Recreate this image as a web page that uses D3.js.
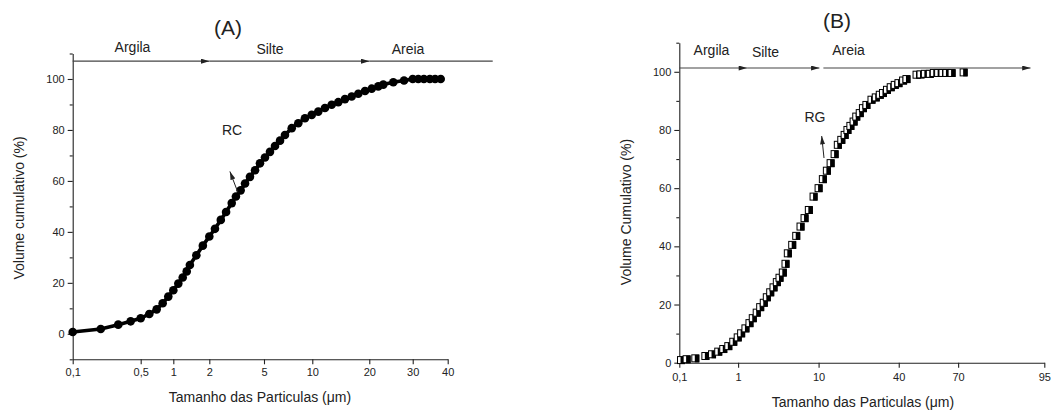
<!DOCTYPE html>
<html>
<head>
<meta charset="utf-8">
<script src="https://cdn.jsdelivr.net/npm/d3@7"></script>
<style>
body { margin: 0; background: #fff; }
text { font-family: "Liberation Sans", Arial, sans-serif; fill: #222; }
.axis path, .axis line { stroke: #222; stroke-width: 1.1px; }
.axis text { font-size: 11px; font-family: "Liberation Sans", Arial, sans-serif; fill: #222; }
</style>
</head>
<body>
<div id="chart"></div>
<script>
// ---- data: panel (A) RC, filled circles ----
var sizeA = [0.10, 0.265, 0.368, 0.441, 0.50, 0.632, 0.745, 0.837, 0.923, 1.0, 1.139, 1.261, 1.372, 1.46, 1.64, 1.82, 2.0, 2.31, 2.63, 2.92, 3.23, 3.46, 3.72, 3.96, 4.23, 4.51, 4.78, 5.10, 5.62, 6.14, 6.66, 7.17, 7.87, 8.55, 9.24, 9.94, 11.05, 12.22, 13.40, 14.56, 15.73, 16.91, 18.07, 19.25, 20.55, 22.07, 23.23, 25.53, 28.0, 30.0, 31.6, 33.2, 34.9, 36.4, 38.0];
var volA = [0.7, 1.9, 3.6, 4.9, 6.1, 7.8, 9.6, 12.0, 14.6, 17.1, 19.7, 22.1, 24.5, 27.0, 30.8, 34.6, 38.2, 41.2, 44.7, 47.8, 51.3, 53.9, 56.3, 59.0, 61.6, 64.2, 66.9, 69.2, 71.4, 73.7, 75.8, 78.0, 80.7, 82.6, 84.6, 85.9, 87.2, 88.6, 89.9, 90.9, 92.1, 93.1, 94.2, 95.3, 96.2, 97.1, 97.8, 98.7, 99.4, 100, 100, 100, 100, 100, 100];

// ---- data: panel (B) RG, half filled squares ----
var sizeB = [0.126, 0.212, 0.345, 0.499, 0.601, 0.696, 0.773, 0.850, 0.926, 0.994,
  1.34, 1.82, 2.27, 2.64, 3.08, 3.47, 3.87, 4.21, 4.59, 4.96, 5.33, 5.63, 6.0, 6.30, 6.56, 7.05, 7.50, 7.98, 8.43, 8.91, 9.44, 10.0,
  11.6, 13.1, 14.5, 16.0, 17.2, 18.5, 19.75, 20.8, 21.9, 23.1, 24.1, 25.4, 26.6, 27.9, 29.8, 31.4, 32.9, 34.1, 35.6, 37.0, 38.5, 39.9,
  42.2, 43.9, 49.0, 51.0, 53.2, 55.7, 57.7, 59.9, 62.1, 64.1, 66.7, 71.6];
var volB = [0.9, 1.2, 1.5, 2.3, 2.9, 3.8, 4.7, 5.7, 7.2, 8.7,
  10.1, 11.8, 13.6, 15.3, 17.2, 19.1, 20.6, 22.5, 24.2, 25.9, 27.7, 29.2, 31.0, 34.0, 37.6, 40.5, 43.6, 46.8, 49.7, 52.5, 57.1, 60.0,
  63.1, 66.0, 68.6, 71.7, 74.9, 76.6, 78.3, 80.0, 81.4, 82.9, 84.6, 85.8, 87.5, 88.6, 90.4, 91.2, 92.1, 92.7, 93.8, 94.7, 95.5, 96.1,
  97.0, 97.5, 99.0, 99.1, 99.3, 99.3, 99.6, 99.6, 99.6, 99.6, 99.6, 99.8];

// axis ticks
var xTicksA = [0.1, 0.5, 1, 2, 5, 10, 20, 30, 40];
var xTicksB = [0.1, 1, 10, 40, 70, 95];
var yTicks = [0, 20, 40, 60, 80, 100];
var yMinorA = [-10, 10, 30, 50, 70, 90, 110];
var yMinorB = [10, 30, 50, 70, 90, 110];

// class bands (argila / silte / areia)
var bandNames = ["Argila", "Silte", "Areia"];
var limitsA = [2, 20];
var limitsB = [2, 10.3];

var width = 1051, height = 412;
var svg = d3.select("#chart").append("svg")
  .attr("width", width).attr("height", height);

var defs = svg.append("defs");
defs.append("marker").attr("id", "head")
  .attr("viewBox", "0 0 10 6").attr("refX", 10).attr("refY", 3)
  .attr("markerWidth", 9).attr("markerHeight", 5).attr("markerUnits", "userSpaceOnUse")
  .attr("orient", "auto")
  .append("path").attr("d", "M0,0 L10,3 L0,6 Z").attr("fill", "#222");

var fmt = function(d) { return String(d).replace(".", ","); };

// ---------------- panel A ----------------
var axA = {left: 72.7, right: 447.7, top: 53.5, bottom: 359.3};
// the original axis is not log, tick spacing as in the figure
var fracA = [0, 0.1813, 0.2683, 0.3643, 0.5101, 0.6389, 0.7909, 0.9067, 1];
var xA = d3.scaleLinear().domain(xTicksA)
  .range(fracA.map(function(f) { return axA.left + f * (axA.right - axA.left); }));
var yA = d3.scaleLinear().domain([-10, 110]).range([axA.bottom, axA.top]);

var gA = svg.append("g");
gA.append("g").attr("class", "axis")
  .attr("transform", "translate(0," + axA.bottom + ")")
  .call(d3.axisBottom(xA).tickValues(xTicksA).tickFormat(fmt).tickSize(5).tickSizeOuter(0).tickPadding(4));
gA.append("g").attr("class", "axis")
  .attr("transform", "translate(" + axA.left + ",0)")
  .call(d3.axisLeft(yA).tickValues(yTicks).tickSize(5).tickSizeOuter(0).tickPadding(3));
gA.append("g").attr("class", "axis")
  .attr("transform", "translate(" + axA.left + ",0)")
  .call(d3.axisLeft(yA).tickValues(yMinorA).tickSize(3).tickFormat("").tickSizeOuter(0))
  .select(".domain").remove();

var ptsA = sizeA.map(function(d, i) { return [xA(d), yA(volA[i])]; });
gA.append("path").attr("d", d3.line()(ptsA))
  .attr("fill", "none").attr("stroke", "#000").attr("stroke-width", 3.6);
gA.selectAll("circle.pt").data(ptsA).enter().append("circle")
  .attr("cx", function(d) { return d[0]; }).attr("cy", function(d) { return d[1]; })
  .attr("r", 4.3).attr("fill", "#000");

// band line with arrows
var bandYA = yA(107);
var edgesA = [xA(0.1), xA(limitsA[0]), xA(limitsA[1]), axA.right + 45];
for (var i = 0; i < 3; i++) {
  var seg = gA.append("line")
    .attr("x1", edgesA[i]).attr("x2", edgesA[i + 1])
    .attr("y1", bandYA).attr("y2", bandYA)
    .attr("stroke", "#444").attr("stroke-width", 1.2);
  if (i < 2) seg.attr("marker-end", "url(#head)");
}
var labelXA = [132.5, 270, 408];
bandNames.forEach(function(n, i) {
  gA.append("text").attr("x", labelXA[i]).attr("y", i == 0 ? 51.5 : 54)
    .attr("text-anchor", "middle").style("font-size", "14px").text(n);
});

gA.append("text").attr("x", 228).attr("y", 35).attr("text-anchor", "middle")
  .style("font-size", "21px").text("(A)");
gA.append("text").attr("x", 260).attr("y", 402).attr("text-anchor", "middle")
  .style("font-size", "14px").text("Tamanho das Particulas (\u03bcm)");
gA.append("text").attr("transform", "translate(24,208) rotate(-90)")
  .attr("text-anchor", "middle").style("font-size", "14px").text("Volume cumulativo (%)");

// RC note with little arrow
gA.append("text").attr("x", 232).attr("y", 135).attr("text-anchor", "middle")
  .style("font-size", "14px").text("RC");
gA.append("line").attr("x1", xA(3.46) + 2).attr("y1", yA(53.9) - 4)
  .attr("x2", xA(3.46) - 6).attr("y2", yA(53.9) - 25)
  .attr("stroke", "#222").attr("stroke-width", 1).attr("marker-end", "url(#head)");

// ---------------- panel B ----------------
var axB = {left: 679.3, right: 1044.3, top: 42.7, bottom: 362.7};
var fracB = [0, 0.1611, 0.3816, 0.6012, 0.7639, 1];
var xB = d3.scaleLinear().domain(xTicksB)
  .range(fracB.map(function(f) { return axB.left + f * (axB.right - axB.left); }));
var yB = d3.scaleLinear().domain([0, 110]).range([axB.bottom, axB.top]);

var gB = svg.append("g");
gB.append("g").attr("class", "axis")
  .attr("transform", "translate(0," + axB.bottom + ")")
  .call(d3.axisBottom(xB).tickValues(xTicksB).tickFormat(fmt).tickSize(5).tickSizeOuter(0).tickPadding(6));
gB.append("g").attr("class", "axis")
  .attr("transform", "translate(" + axB.left + ",0)")
  .call(d3.axisLeft(yB).tickValues(yTicks).tickSize(5).tickSizeOuter(0).tickPadding(3));
gB.append("g").attr("class", "axis")
  .attr("transform", "translate(" + axB.left + ",0)")
  .call(d3.axisLeft(yB).tickValues(yMinorB).tickSize(3).tickFormat("").tickSizeOuter(0))
  .select(".domain").remove();

var ptsB = sizeB.map(function(d, i) { return [xB(d), yB(volB[i])]; });
var mk = gB.selectAll("g.mk").data(ptsB).enter().append("g")
  .attr("transform", function(d) { return "translate(" + d[0] + "," + d[1] + ")"; });
mk.append("rect").attr("x", -3.5).attr("y", -3.5).attr("width", 7).attr("height", 7)
  .attr("fill", "#fff").attr("stroke", "#000").attr("stroke-width", 1);
mk.append("rect").attr("x", -0.5).attr("y", -3.5).attr("width", 4.5).attr("height", 7.5)
  .attr("fill", "#000");

var bandYB = yB(101.3);
var edgesB = [axB.left, xB(limitsB[0]), xB(limitsB[1]), xB(91)];
for (var j = 0; j < 3; j++) {
  gB.append("line")
    .attr("x1", edgesB[j] + (j == 2 ? 4 : 0)).attr("x2", edgesB[j + 1])
    .attr("y1", bandYB).attr("y2", bandYB)
    .attr("stroke", "#444").attr("stroke-width", 1.2)
    .attr("marker-end", "url(#head)");
}
var labelXB = [711.5, 765.5, 848.5];
bandNames.forEach(function(n, i) {
  gB.append("text").attr("x", labelXB[i]).attr("y", i == 1 ? 57 : 55)
    .attr("text-anchor", "middle").style("font-size", "14px").text(n);
});

gB.append("text").attr("x", 837).attr("y", 28).attr("text-anchor", "middle")
  .style("font-size", "21px").text("(B)");
gB.append("text").attr("x", 863).attr("y", 407).attr("text-anchor", "middle")
  .style("font-size", "14px").text("Tamanho das Particulas (\u03bcm)");
gB.append("text").attr("transform", "translate(631,212) rotate(-90)")
  .attr("text-anchor", "middle").style("font-size", "14px").text("Volume Cumulativo (%)");

gB.append("text").attr("x", 815).attr("y", 122).attr("text-anchor", "middle")
  .style("font-size", "14px").text("RG");
gB.append("line").attr("x1", 824).attr("y1", 158)
  .attr("x2", 821.7).attr("y2", 136)
  .attr("stroke", "#222").attr("stroke-width", 1).attr("marker-end", "url(#head)");
</script>
</body>
</html>
